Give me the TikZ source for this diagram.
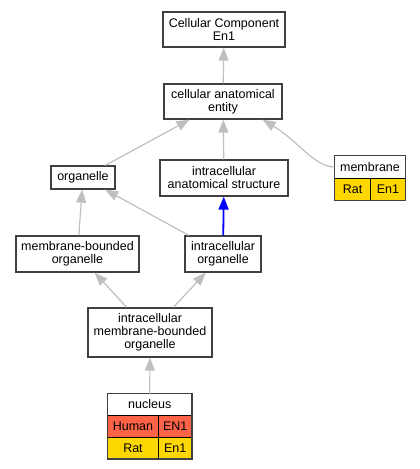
\documentclass[tikz,border=0pt]{standalone}
\usepackage{fontspec}
\setmainfont{Liberation Sans}
\usetikzlibrary{arrows.meta,calc}
\definecolor{rat}{HTML}{FFD700}
\definecolor{human}{HTML}{FF6347}
\tikzset{
    >={Triangle[length=13pt,width=10pt]},
    term/.style={draw=black!75, line width=1.3pt, fill=white, align=center,
        inner sep=0pt, font=\fontsize{12.5}{13}\selectfont},
    cell/.style={draw=black, line width=0.8pt, inner sep=0pt, outer sep=0pt,
        anchor=north west, font=\fontsize{12.5}{13}\selectfont},
    frame/.style={draw=black!75, line width=1.3pt},
    isa/.style={->, draw=black!25, line width=1.2pt},
    partof/.style={->, draw=blue, line width=1.8pt},
}

\begin{document}
\begin{tikzpicture}[x=1pt,y=-1pt]
    \useasboundingbox (0,0) rectangle (420,469);

    % terms
    \node[term, minimum width=122, minimum height=35] (cc) at (224,29.5) {Cellular Component\\En1};
    \node[term, minimum width=118, minimum height=35] (cae) at (223,101.5) {cellular anatomical\\entity};
    \node[term, minimum width=64, minimum height=23] (org) at (83,177.5) {organelle};
    \node[term, minimum width=128, minimum height=36] (ias) at (224,178) {intracellular\\anatomical structure};
    \node[term, minimum width=123, minimum height=36] (mbo) at (77.5,254) {membrane-bounded\\organelle};
    \node[term, minimum width=76, minimum height=36] (io) at (223,254) {intracellular\\organelle};
    \node[term, minimum width=124, minimum height=49] (imbo) at (150,332.5) {intracellular\\membrane-bounded\\organelle};

    % membrane table
    \node[cell, fill=white, minimum width=71, minimum height=23] (memT) at (334.5,155.5) {membrane};
    \node[cell, fill=rat, minimum width=36, minimum height=22] (memRat) at (memT.south west) {Rat};
    \node[cell, fill=rat, minimum width=35, minimum height=22] (memEn) at (memRat.north east) {En1};
    \draw[frame] (memT.north west) rectangle (memEn.south east);

    % nucleus table
    \node[cell, fill=white, minimum width=84.5, minimum height=22] (nucT) at (107.5,393.5) {nucleus};
    \node[cell, fill=human, minimum width=51, minimum height=21.5] (nucHuman) at (nucT.south west) {Human};
    \node[cell, fill=human, minimum width=33.5, minimum height=21.5] (nucEN) at (nucHuman.north east) {EN1};
    \node[cell, fill=rat, minimum width=51, minimum height=22] (nucRat) at (nucHuman.south west) {Rat};
    \node[cell, fill=rat, minimum width=33.5, minimum height=22] (nucEn) at (nucRat.north east) {En1};
    \draw[frame] (nucT.north west) rectangle (nucEn.south east);

    % edges
    \draw[isa] (cae) -- (cc);
    \draw[isa] (org) -- (cae);
    \draw[isa] (ias) -- (cae);
    \draw[isa] (memT.west) .. controls +(-20,0) and +(35,21) .. ($(cae.south east)+(-20,0)$);
    \draw[isa] (mbo) -- (org);
    \draw[isa] (io) -- (org);
    \draw[partof] (io) -- (ias);
    \draw[isa] (imbo) -- (mbo);
    \draw[isa] (imbo) -- (io);
    \draw[isa] (nucT) -- (imbo);
\end{tikzpicture}
\end{document}
